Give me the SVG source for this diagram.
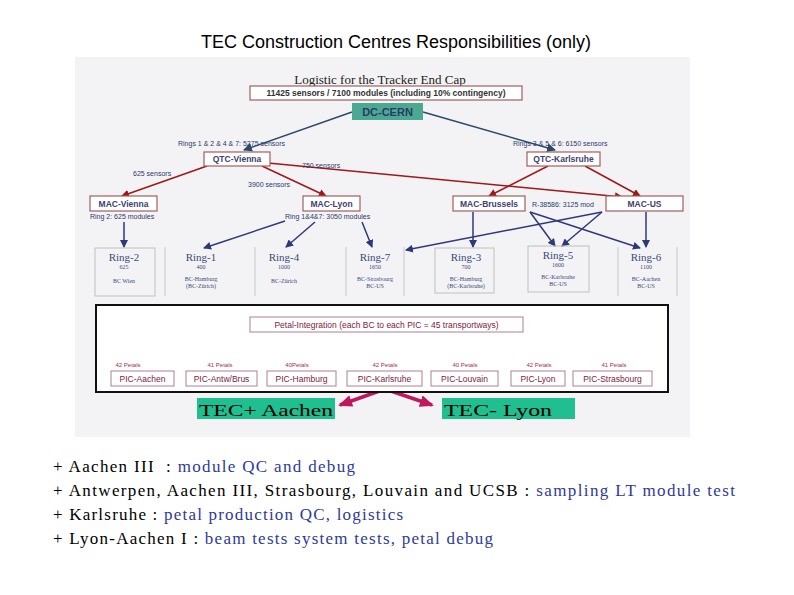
<svg xmlns="http://www.w3.org/2000/svg" width="794" height="595" viewBox="0 0 794 595">
<style>
.s{font-family:"Liberation Sans",Arial,sans-serif}
.lbl{font-family:"Liberation Sans",Arial,sans-serif;font-size:7px;fill:#2a3a6a}
.box{fill:#fff;stroke:#a06060;stroke-width:1.2}
.bt{font-family:"Liberation Sans",Arial,sans-serif;font-size:8.5px;font-weight:bold;fill:#404070;text-anchor:middle}
.rt{font-family:"Liberation Serif","Times New Roman",serif;text-anchor:middle;fill:#3a4a7a}
.red{stroke:#a01818;stroke-width:1.5;fill:none;marker-end:url(#ar)}
.blu{stroke:#2e3a78;stroke-width:1.5;fill:none;marker-end:url(#ab)}
.pb{fill:#fff;stroke:#b08090;stroke-width:1}
.pt{font-family:"Liberation Sans",Arial,sans-serif;font-size:8.5px;fill:#802040;text-anchor:middle}
.pl{font-family:"Liberation Sans",Arial,sans-serif;font-size:6px;fill:#a03050;text-anchor:middle}
.bot{font-family:"Liberation Serif","Times New Roman",serif;font-size:17px;fill:#000}
.blue{fill:#2e3a98}
</style>
<defs>
<marker id="ar" markerWidth="8" markerHeight="8" refX="7" refY="4" orient="auto" markerUnits="userSpaceOnUse"><path d="M0,0 L8,4 L0,8 z" fill="#a01818"/></marker>
<marker id="ab" markerWidth="8" markerHeight="8" refX="7" refY="4" orient="auto" markerUnits="userSpaceOnUse"><path d="M0,0 L8,4 L0,8 z" fill="#2e3a78"/></marker>
<marker id="ad" markerWidth="9" markerHeight="9" refX="8" refY="4.5" orient="auto" markerUnits="userSpaceOnUse"><path d="M0,0 L9,4.5 L0,9 z" fill="#2a4a6a"/></marker>
<marker id="am" markerWidth="14" markerHeight="12" refX="12" refY="6" orient="auto" markerUnits="userSpaceOnUse"><path d="M0,0 L14,6 L0,12 z" fill="#c0185a"/></marker>
<path id="ga" d="M-5,0 L5,0 L0,9 z" fill="#2a7a2a"/>
</defs>
<rect width="794" height="595" fill="#fff"/>
<text class="s" x="396" y="48" font-size="18" text-anchor="middle">TEC Construction Centres Responsibilities (only)</text>
<rect x="75" y="57" width="615" height="380" fill="#f3f3f5"/>
<text x="380" y="84" font-family="Liberation Serif,serif" font-size="13" text-anchor="middle" fill="#222">Logistic for the Tracker End Cap</text>

<g id="connectors">
<line x1="352" y1="112" x2="244" y2="150" stroke="#2a4a6a" stroke-width="1.5" marker-end="url(#ad)"/>
<line x1="423" y1="112" x2="555" y2="150" stroke="#2a4a6a" stroke-width="1.5" marker-end="url(#ad)"/>
<line class="red" x1="207" y1="166" x2="122" y2="196"/>
<line class="red" x1="262" y1="166" x2="326" y2="196"/>
<line class="red" x1="268" y1="163" x2="622" y2="197"/>
<line class="red" x1="548" y1="166" x2="489" y2="196"/>
<line class="red" x1="585" y1="166" x2="640" y2="196"/>
<line class="blu" x1="124" y1="222" x2="124" y2="247"/>
<line class="blu" x1="285" y1="221" x2="204" y2="248"/>
<line class="blu" x1="315" y1="222" x2="286" y2="247"/>
<line class="blu" x1="362" y1="222" x2="372" y2="247"/>
<line class="blu" x1="473" y1="212" x2="473" y2="247"/>
<line class="blu" x1="530" y1="212" x2="555" y2="246"/>
<line class="blu" x1="530" y1="212" x2="640" y2="248"/>
<line class="blu" x1="602" y1="212" x2="562" y2="246"/>
<line class="blu" x1="602" y1="212" x2="406" y2="250"/>
<line class="blu" x1="646" y1="212" x2="646" y2="247"/>
<path d="M385,389 L340,405" stroke="#c0185a" stroke-width="3.5" fill="none" marker-end="url(#am)"/>
<path d="M385,389 L432,405" stroke="#c0185a" stroke-width="3.5" fill="none" marker-end="url(#am)"/>
</g>

<g id="sensors"><rect x="250" y="86" width="272" height="14" class="box"/><text class="s" x="386" y="96" font-size="8.5" font-weight="bold" text-anchor="middle" fill="#333">11425 sensors / 7100 modules (including 10% contingency)</text></g>
<g id="dc-cern"><rect x="352" y="103" width="71" height="17" fill="#4aa990"/><text class="s" x="387.5" y="115.5" font-size="11" font-weight="bold" text-anchor="middle" fill="#2a3a6a">DC-CERN</text></g>
<text class="lbl" x="178" y="146">Rings 1 &amp; 2 &amp; 4 &amp; 7: 5275 sensors</text>
<text class="lbl" x="513" y="146">Rings 3 &amp; 5 &amp; 6: 6150 sensors</text>
<g id="qtc-vienna"><rect x="204" y="152" width="66" height="14" class="box"/><text class="bt" x="237" y="162" fill="#803030">QTC-Vienna</text></g>
<g id="qtc-karlsruhe"><rect x="527" y="152" width="73" height="14" class="box"/><text class="bt" x="563.5" y="162">QTC-Karlsruhe</text></g>
<text class="lbl" x="133" y="176">625 sensors</text>
<text class="lbl" x="302" y="168">750 sensors</text>
<text class="lbl" x="248" y="187">3900 sensors</text>
<g id="mac-vienna"><rect x="90" y="196" width="67" height="15" class="box" stroke="#8080a0"/><text class="bt" x="123.5" y="207">MAC-Vienna</text></g>
<g id="mac-lyon"><rect x="303" y="196" width="57" height="15" class="box" stroke="#8080a0"/><text class="bt" x="331.5" y="207">MAC-Lyon</text></g>
<g id="mac-brussels"><rect x="453" y="196" width="72" height="15" class="box" stroke="#8080a0"/><text class="bt" x="489" y="207">MAC-Brussels</text></g>
<text class="lbl" x="532" y="207">R-38586: 3125 mod</text>
<g id="mac-us"><rect x="606" y="196" width="77" height="15" class="box" stroke="#8080a0"/><text class="bt" x="644.5" y="207">MAC-US</text></g>
<text class="lbl" x="90" y="219">Ring 2: 625 modules</text>
<text class="lbl" x="285" y="219">Ring 1&amp;4&amp;7: 3050 modules</text>

<g stroke="#c8c8c8" stroke-width="1">
<line x1="165" y1="247" x2="165" y2="296"/><line x1="255" y1="247" x2="255" y2="296"/><line x1="346" y1="247" x2="346" y2="296"/><line x1="404" y1="247" x2="404" y2="296"/><line x1="618" y1="247" x2="618" y2="296"/><line x1="677" y1="247" x2="677" y2="296"/>
</g>
<rect x="95" y="248" width="60" height="48" fill="none" stroke="#c0c0c0"/>
<rect x="435" y="248" width="59" height="45" fill="none" stroke="#c0c0c0"/>
<rect x="528" y="246" width="61" height="46" fill="none" stroke="#c0c0c0"/>

<g id="ring-2"><text class="rt" x="124" y="261" font-size="11">Ring-2</text><text class="rt" x="124" y="269" font-size="6">625</text><text class="rt" x="124" y="283" font-size="6">BC Wien</text></g>
<g id="ring-1"><text class="rt" x="201" y="261" font-size="11">Ring-1</text><text class="rt" x="201" y="269" font-size="6">400</text><text class="rt" x="201" y="281" font-size="6">BC-Hamburg</text><text class="rt" x="201" y="288" font-size="6">(BC-Zürich)</text></g>
<g id="ring-4"><text class="rt" x="284" y="261" font-size="11">Ring-4</text><text class="rt" x="284" y="269" font-size="6">1000</text><text class="rt" x="284" y="283" font-size="6">BC-Zürich</text></g>
<g id="ring-7"><text class="rt" x="375" y="261" font-size="11">Ring-7</text><text class="rt" x="375" y="269" font-size="6">1650</text><text class="rt" x="375" y="281" font-size="6">BC-Strasbourg</text><text class="rt" x="375" y="288" font-size="6">BC-US</text></g>
<g id="ring-3"><text class="rt" x="466" y="261" font-size="11">Ring-3</text><text class="rt" x="466" y="269" font-size="6">700</text><text class="rt" x="466" y="281" font-size="6">BC-Hamburg</text><text class="rt" x="466" y="288" font-size="6">(BC-Karlsruhe)</text></g>
<g id="ring-5"><text class="rt" x="558" y="259" font-size="11">Ring-5</text><text class="rt" x="558" y="267" font-size="6">1600</text><text class="rt" x="558" y="279" font-size="6">BC-Karlsruhe</text><text class="rt" x="558" y="286" font-size="6">BC-US</text></g>
<g id="ring-6"><text class="rt" x="646" y="261" font-size="11">Ring-6</text><text class="rt" x="646" y="269" font-size="6">1100</text><text class="rt" x="646" y="281" font-size="6">BC-Aachen</text><text class="rt" x="646" y="288" font-size="6">BC-US</text></g>

<g id="green-arrows">
<use href="#ga" x="124" y="304"/><use href="#ga" x="201" y="304"/><use href="#ga" x="284" y="304"/><use href="#ga" x="375" y="304"/><use href="#ga" x="466" y="304"/><use href="#ga" x="558" y="304"/><use href="#ga" x="646" y="304"/>
</g>

<g id="petal-area"><rect x="96" y="305" width="572" height="87" fill="#fff" stroke="#111" stroke-width="2"/></g>
<g id="petal-integration"><rect x="250" y="317" width="273" height="15" class="pb"/><text class="pt" x="386.5" y="327.5" font-size="7.5">Petal-Integration (each BC to each PIC = 45 transportways)</text></g>
<g id="pic-aachen"><text class="pl" x="128" y="367">42 Petals</text><rect x="111" y="371" width="63" height="15" class="pb"/><text class="pt" x="142.5" y="382">PIC-Aachen</text></g>
<g id="pic-antw"><text class="pl" x="220" y="367">41 Petals</text><rect x="186" y="371" width="71" height="15" class="pb"/><text class="pt" x="221.5" y="382">PIC-Antw/Brus</text></g>
<g id="pic-hamburg"><text class="pl" x="297" y="367">40Petals</text><rect x="267" y="371" width="69" height="15" class="pb"/><text class="pt" x="301.5" y="382">PIC-Hamburg</text></g>
<g id="pic-karlsruhe"><text class="pl" x="385" y="367">42 Petals</text><rect x="347" y="371" width="75" height="15" class="pb"/><text class="pt" x="384.5" y="382">PIC-Karlsruhe</text></g>
<g id="pic-louvain"><text class="pl" x="465" y="367">40 Petals</text><rect x="431" y="371" width="67" height="15" class="pb"/><text class="pt" x="464.5" y="382">PIC-Louvain</text></g>
<g id="pic-lyon"><text class="pl" x="539" y="367">42 Petals</text><rect x="511" y="371" width="54" height="15" class="pb"/><text class="pt" x="538" y="382">PIC-Lyon</text></g>
<g id="pic-strasbourg"><text class="pl" x="614" y="367">41 Petals</text><rect x="573" y="371" width="79" height="15" class="pb"/><text class="pt" x="612.5" y="382">PIC-Strasbourg</text></g>

<g id="tec-plus"><rect x="197" y="398" width="138" height="21" fill="#1fbf8f"/><text class="bot" x="199" y="416" font-size="21" textLength="134" lengthAdjust="spacingAndGlyphs">TEC+ Aachen</text></g>
<g id="tec-minus"><rect x="442" y="398" width="133" height="21" fill="#1fbf8f"/><text class="bot" x="444" y="416" font-size="21" textLength="108" lengthAdjust="spacingAndGlyphs">TEC- Lyon</text></g>

<text class="bot" x="53" y="472" xml:space="preserve" textLength="302" lengthAdjust="spacing">+ Aachen III  : <tspan class="blue">module QC and debug</tspan></text>
<text class="bot" x="53" y="496" textLength="682" lengthAdjust="spacing">+ Antwerpen, Aachen III, Strasbourg, Louvain and UCSB : <tspan class="blue">sampling LT module test</tspan></text>
<text class="bot" x="53" y="520" textLength="350" lengthAdjust="spacing">+ Karlsruhe : <tspan class="blue">petal production QC, logistics</tspan></text>
<text class="bot" x="53" y="544" textLength="440" lengthAdjust="spacing">+ Lyon-Aachen I : <tspan class="blue">beam tests system tests, petal debug</tspan></text>
</svg>
